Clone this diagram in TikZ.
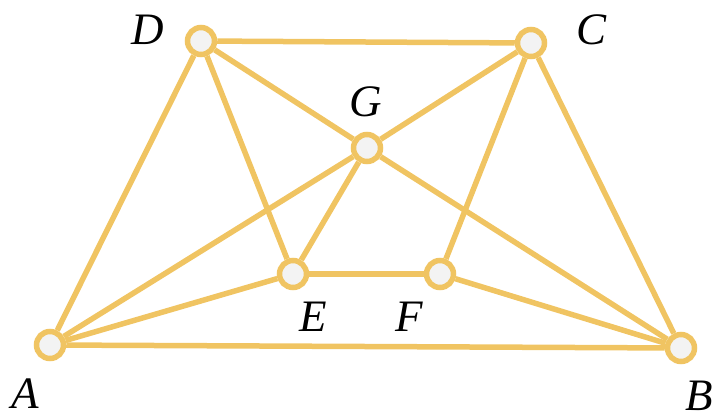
\documentclass[tikz,border=0pt]{standalone}
\usepackage{fontspec}
\setmainfont{Liberation Serif}
\usepackage{xcolor}
\definecolor{edgegold}{RGB}{240, 196, 98}
\definecolor{dotfill}{RGB}{243, 243, 243}

\begin{document}
\begin{tikzpicture}[x=1pt, y=-1pt,
    vertex/.style={draw=edgegold, fill=dotfill, circle, line width=5.5pt, minimum size=27pt, inner sep=0pt},
    tag/.style={font=\fontsize{45}{45}\selectfont\itshape, inner sep=0pt},
    edge/.style={draw=edgegold, line width=5.5pt}]
            \useasboundingbox (0,0) rectangle (721,418);
            % Vertices
            \node[vertex] (A) at (50,345) {};
            \node[vertex] (B) at (681,348) {};
            \node[vertex] (C) at (531,43) {};
            \node[vertex] (D) at (201,41) {};
            \node[vertex] (G) at (367,148) {};
            \node[vertex] (E) at (293,274) {};
            \node[vertex] (F) at (440,274) {};

            % Labels
            \node[tag] (lA) at (25,394) {A};
            \node[tag] (lB) at (699,396) {B};
            \node[tag] (lC) at (592,30) {C};
            \node[tag] (lD) at (148,30) {D};
            \node[tag] (lG) at (366,102) {G};
            \node[tag] (lE) at (313,317) {E};
            \node[tag] (lF) at (409,317) {F};

            % Edges
            \path[edge] (D) -- (C);
            \path[edge] (A) -- (B);
            \path[edge] (A) -- (D);
            \path[edge] (B) -- (C);
            \path[edge] (D) -- (E);
            \path[edge] (C) -- (F);
            \path[edge] (D) -- (G);
            \path[edge] (G) -- (B);
            \path[edge] (A) -- (G);
            \path[edge] (G) -- (C);
            \path[edge] (G) -- (E);
            \path[edge] (A) -- (E);
            \path[edge] (E) -- (F);
            \path[edge] (F) -- (B);
        \end{tikzpicture}
\end{document}
